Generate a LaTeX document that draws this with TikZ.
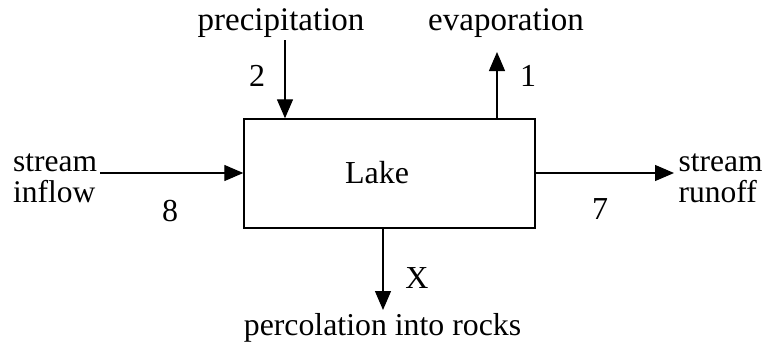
\documentclass[tikz,border=0pt]{standalone}
\usepackage{fontspec}
\setmainfont{Liberation Serif}
\usetikzlibrary{arrows.meta}
\begin{document}
\begin{tikzpicture}[x=1pt,y=-1pt,
  every node/.style={font=\fontsize{32}{31}\selectfont, inner sep=0pt},
  sz/.style={font=\fontsize{#1}{31}\selectfont},
  flow/.style={line width=1.3pt, -{Triangle[length=19pt,width=16pt]}},
  boxstyle/.style={draw, line width=1.4pt, minimum width=291pt, minimum height=109pt}]
\useasboundingbox (0,0) rectangle (764,354);
\node[boxstyle] (lake) at (389.5,173.5) {};
\node[anchor=base, sz=32] (lakelbl) at (377,183) {Lake};
\node[anchor=base, sz=33] (prec) at (281,30) {precipitation};
\node[anchor=base west, sz=33] (evap) at (428,30) {evaporation};
\node[align=left, anchor=west, sz=31.5] (inflow) at (13,178) {stream\\inflow};
\node[align=left, anchor=west, sz=31.5] (runoff) at (678.5,178) {stream\\runoff};
\node[anchor=base, sz=31.8] (perc) at (382.5,335) {percolation into rocks};
\node (n2) at (257,76) {2};
\node (n1) at (528,76) {1};
\node (n8) at (170,211) {8};
\node (n7) at (600,209) {7};
\node (nx) at (417,278) {X};
\coordinate (pT) at (285,40);
\coordinate (eB) at (497,52);
\coordinate (inS) at (100,173);
\coordinate (outE) at (674,173);
\coordinate (pB) at (383,310);
\draw[flow] (pT) -- (pT |- lake.north);
\draw[flow] (lake.north -| eB) -- (eB);
\draw[flow] (inS) -- (inS -| lake.west);
\draw[flow] (outE -| lake.east) -- (outE);
\draw[flow] (lake.south -| pB) -- (pB);
\end{tikzpicture}
\end{document}
